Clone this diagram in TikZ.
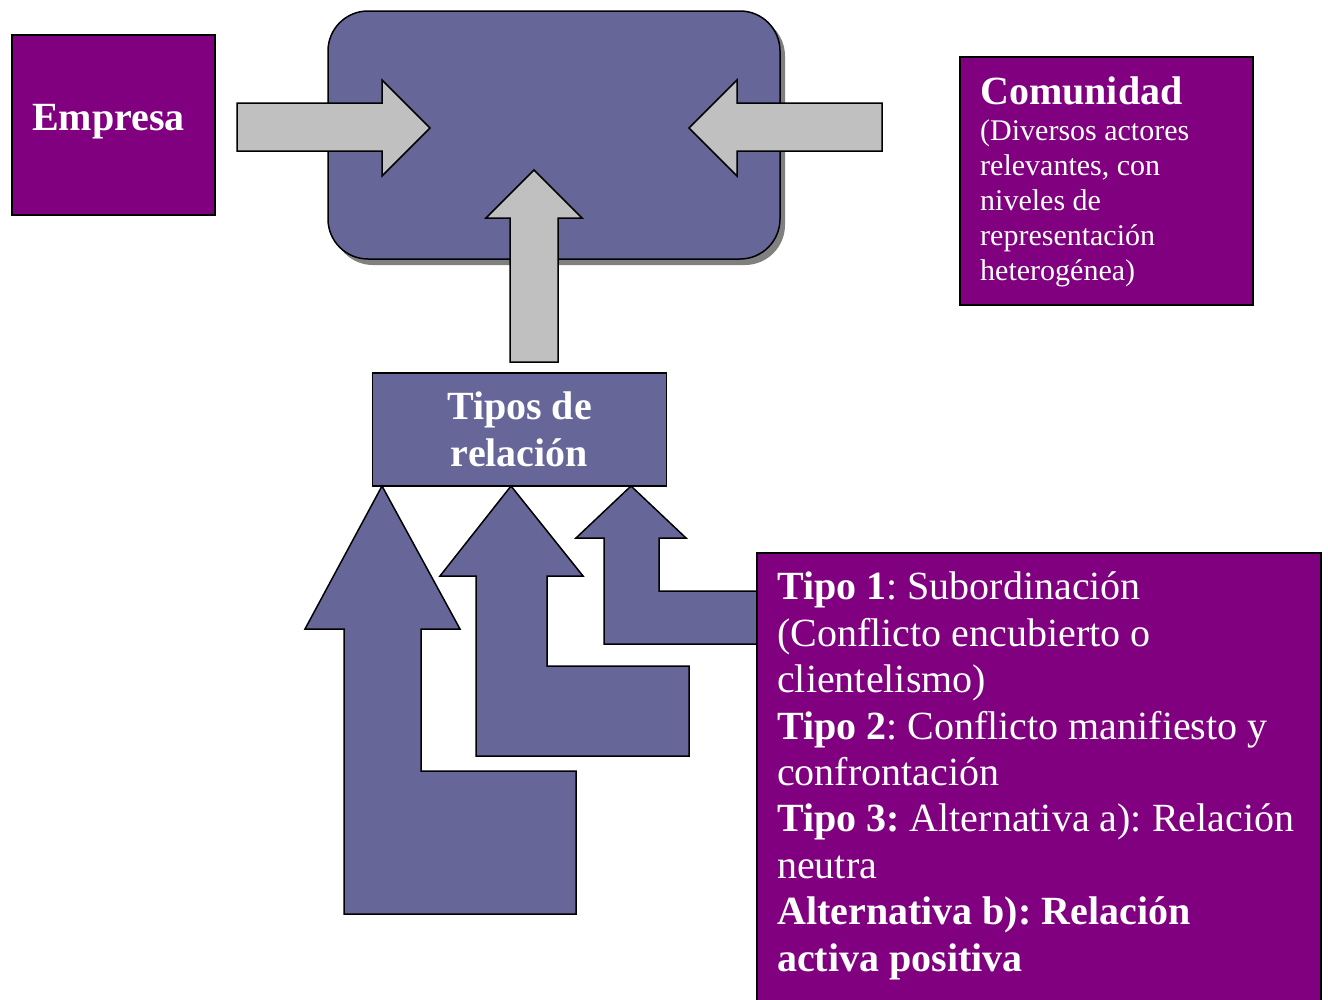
\documentclass[tikz,border=0pt]{standalone}
\usepackage{fontspec}
\setmainfont{Liberation Serif}
\usepackage{tikz}
\definecolor{morado}{HTML}{800080}
\definecolor{pizarra}{HTML}{666699}
\definecolor{gris}{HTML}{C0C0C0}
\definecolor{sombra}{HTML}{808080}
\frenchspacing

\begin{document}
\begin{tikzpicture}[x=1pt,y=-1pt,
	caja/.style={draw=black, line width=1.5pt, fill=morado},
	cajaazul/.style={draw=black, line width=1.5pt, fill=pizarra},
	flechagris/.style={draw=black, line width=1.5pt, fill=gris},
	flechaazul/.style={draw=black, line width=1.5pt, fill=pizarra},
	texto/.style={text=white, inner sep=0pt, align=left}]
			\useasboundingbox (0,0) rectangle (1328,999);
			%draw empresa
			\draw[caja] (12,35) rectangle (215,215);
			\node[texto, anchor=base west, font=\fontsize{40}{46}\selectfont\bfseries] (empresa) at (32,130) {Empresa};
			%draw central box with shadow
			\fill[sombra, rounded corners=40pt] (333,16) rectangle (785,265);
			\node[cajaazul, rounded corners=40pt, minimum width=452pt, minimum height=248pt] (centro) at (554,135) {};
			%draw gray arrows
			\draw[flechagris] (237,103) -- (382,103) -- (382,80) -- (430,128) -- (382,176) -- (382,151) -- (237,151) -- cycle;
			\draw[flechagris] (882,103) -- (737,103) -- (737,80) -- (689,128) -- (737,176) -- (737,151) -- (882,151) -- cycle;
			\draw[flechagris] (510,362) -- (510,218) -- (486,218) -- (534,170) -- (582,218) -- (558,218) -- (558,362) -- cycle;
			%draw comunidad
			\draw[caja] (960,57) rectangle (1253,305);
			\node[texto, anchor=base west, font=\fontsize{40}{46}\selectfont\bfseries] (comunidad) at (980,104) {Comunidad};
			\node[texto, anchor=base west, font=\fontsize{30}{35}\selectfont] (actores) at (980,280) {(Diversos actores\\relevantes, con\\niveles de\\representación\\heterogénea)};
			%draw tipos de relacion
			\node[cajaazul, text=white, align=center, minimum width=294pt, minimum height=113pt, font=\fontsize{40}{47}\selectfont\bfseries] (tipos) at (519.5,429.5) {Tipos de\\relación};
			%draw blue arrows
			\draw[flechaazul] (344,914) -- (344,629) -- (305,629) -- (382,486) -- (460,629) -- (421,629) -- (421,771) -- (576,771) -- (576,914) -- cycle;
			\draw[flechaazul] (476,756) -- (476,576) -- (440,576) -- (511,486) -- (583,576) -- (547,576) -- (547,666) -- (689,666) -- (689,756) -- cycle;
			\draw[flechaazul] (604,644) -- (604,538) -- (576,538) -- (631,486) -- (686,538) -- (659,538) -- (659,591) -- (757,591) -- (757,644) -- cycle;
			%draw tipos box
			\draw[caja] (757,553) rectangle (1321,1010);
			\node[texto, anchor=base west, font=\fontsize{40}{46.4}\selectfont] (detalle) at (777,971) {\textbf{Tipo 1}: Subordinación\\(Conflicto encubierto o\\clientelismo)\\\textbf{Tipo 2}: Conflicto manifiesto y\\confrontación\\\textbf{Tipo 3:} Alternativa a): Relación\\neutra\\\textbf{Alternativa b): Relación}\\\textbf{activa positiva}};
\end{tikzpicture}
\end{document}
